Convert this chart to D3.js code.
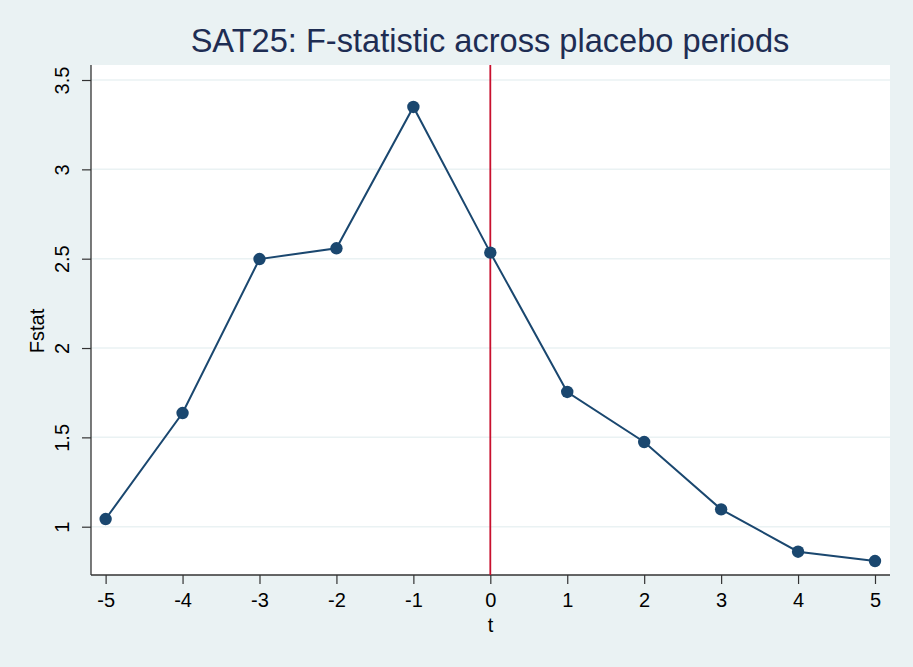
<!DOCTYPE html>
<html><head><meta charset="utf-8">
<script src="https://cdn.jsdelivr.net/npm/d3@7"></script>
<style>html,body{margin:0;padding:0;background:#eaf2f3;}svg{display:block;font-family:"Liberation Sans",Arial,sans-serif;}svg text{font-family:"Liberation Sans",Arial,sans-serif;}</style>
</head><body>
<script>
const periods = [-5,-4,-3,-2,-1,0,1,2,3,4,5];
const fstat = [1.043,1.636,2.498,2.558,3.349,2.534,1.754,1.474,1.097,0.860,0.808];
const xTicks = [-5,-4,-3,-2,-1,0,1,2,3,4,5];
const yTicks = [1,1.5,2,2.5,3,3.5];
const yTickLabels = ["1","1.5","2","2.5","3","3.5"];
const titleText = "SAT25: F-statistic across placebo periods";
const xLabel = "t", yLabel = "Fstat";
const refLineX = 0;

const W=913,H=667;
const svg=d3.select("body").append("svg").attr("width",W).attr("height",H);
svg.append("rect").attr("width",W).attr("height",H).attr("fill","#eaf2f3");
const L=91,R=890,T=65,B=575;
svg.append("rect").attr("x",L).attr("y",T).attr("width",R-L).attr("height",B-T).attr("fill","#ffffff");
const x=d3.scaleLinear().domain([-5.19,5.195]).range([L,R]);
const y=d3.scaleLinear().domain([0.7297,3.584]).range([B,T]);

// gridlines
svg.append("g").selectAll("line").data(yTicks).join("line")
  .attr("x1",L).attr("x2",R).attr("y1",d=>y(d)).attr("y2",d=>y(d))
  .attr("stroke","#eaf2f3").attr("stroke-width",1.5);

const FS=20;
// axes
const yAxis=d3.axisLeft(y).tickValues(yTicks).tickFormat((d,i)=>yTickLabels[i]).tickSize(9).tickSizeOuter(0);
const gy=svg.append("g").attr("transform",`translate(${L},0)`).call(yAxis)
  .attr("font-family","Liberation Sans, Arial, sans-serif").attr("font-size",FS);
gy.select(".domain").attr("d",`M0,${T}V${B}`).attr("stroke","#333").attr("stroke-width",1.3);
gy.selectAll(".tick line").attr("stroke","#333").attr("stroke-width",1.2);
gy.selectAll(".tick text").attr("font-size",FS).attr("fill","#000").attr("x",0).attr("dy",0)
  .attr("transform","translate(-29,0) rotate(-90)").attr("text-anchor","middle").attr("dominant-baseline","central");

const xAxis=d3.axisBottom(x).tickValues(xTicks).tickFormat(d3.format("d")).tickSize(9).tickSizeOuter(0);
const gx=svg.append("g").attr("transform",`translate(0,${B})`).call(xAxis)
  .attr("font-family","Liberation Sans, Arial, sans-serif").attr("font-size",FS);
gx.select(".domain").attr("d",`M${L},0H${R}`).attr("stroke","#333").attr("stroke-width",1.3);
gx.selectAll(".tick line").attr("stroke","#333").attr("stroke-width",1.2);
gx.selectAll(".tick text").attr("font-size",FS).attr("fill","#000").attr("y",18).attr("dy","0.71em")
  .text(d=>d<0?"-"+Math.abs(d):String(d));

// reference line
svg.append("line").attr("x1",x(refLineX)).attr("x2",x(refLineX)).attr("y1",T).attr("y2",B)
  .attr("stroke","#c8102e").attr("stroke-width",1.8);

// series
const pts=periods.map((p,i)=>({p,v:fstat[i]}));
svg.append("path").datum(pts).attr("fill","none").attr("stroke","#1a476f").attr("stroke-width",2)
  .attr("d",d3.line().x(d=>x(d.p)).y(d=>y(d.v)));
svg.append("g").selectAll("circle").data(pts).join("circle")
  .attr("cx",d=>x(d.p)).attr("cy",d=>y(d.v)).attr("r",6.2).attr("fill","#1a476f");

// labels
svg.append("text").attr("x",(L+R)/2).attr("y",632).attr("text-anchor","middle").attr("font-size",FS).attr("fill","#000").text(xLabel);
svg.append("text").attr("transform",`translate(44,331) rotate(-90)`).attr("text-anchor","middle").attr("font-size",FS).attr("fill","#000").text(yLabel);
svg.append("text").attr("x",490).attr("y",52).attr("text-anchor","middle").attr("font-size",32.6).attr("fill","#1e2d53").text(titleText);
</script>
</body></html>
